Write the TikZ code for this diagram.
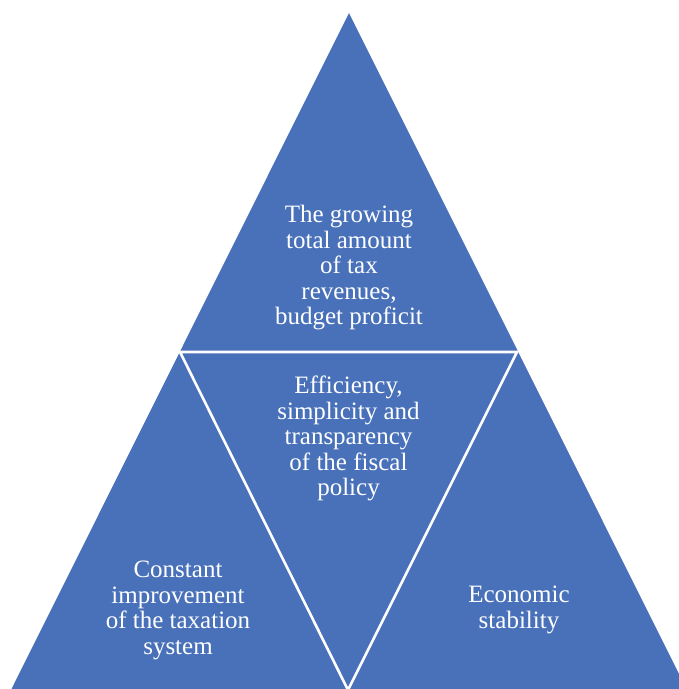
\documentclass[tikz,border=0pt]{standalone}
\usepackage{fontspec}
\setmainfont{Liberation Serif}
\definecolor{pyrblue}{HTML}{4871BA}
\begin{document}
\begin{tikzpicture}[x=1pt,y=-1pt,
  lbl/.style={text=white, align=center, inner sep=0pt, anchor=north,
    font=\fontsize{25}{25.5}\selectfont},
  sep/.style={draw=white, line width=2.6pt}]
\useasboundingbox (0,0) rectangle (679,689);
\coordinate (apex) at (349,13);
\coordinate (bl) at (11,690);
\coordinate (br) at (687,690);
\coordinate (ml) at (180,352);
\coordinate (mr) at (517,352);
\coordinate (mb) at (348,690);
\fill[pyrblue] (apex) -- (br) -- (bl) -- cycle;
\draw[sep] (ml) -- (mr) -- (mb) -- cycle;
\node[lbl] (top) at (349,205) {The growing\\total amount\\of tax\\revenues,\\budget proficit};
\node[lbl] (mid) at (348.5,376) {Efficiency,\\simplicity and\\transparency\\of the fiscal\\policy};
\node[lbl] (left) at (178,561) {Constant\\improvement\\of the taxation\\system};
\node[lbl] (right) at (519,586) {Economic\\stability};
\end{tikzpicture}
\end{document}
